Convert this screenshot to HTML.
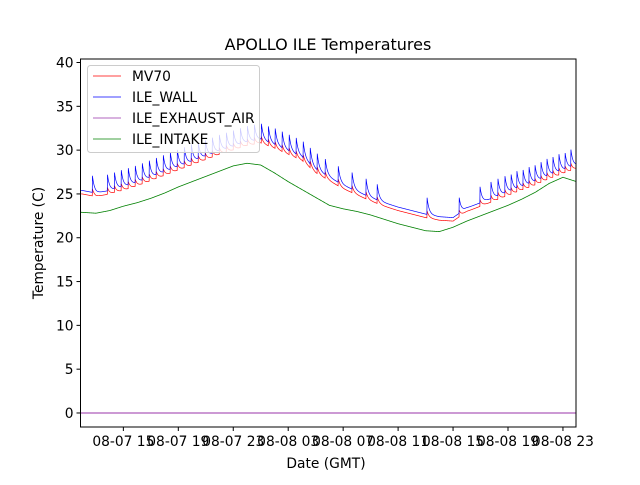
<!DOCTYPE html>
<html><head><meta charset="utf-8"><style>
body{margin:0;background:#fff;}
svg text{font-family:"DejaVu Sans","Liberation Sans",sans-serif;}
</style></head><body>
<svg id="chart" width="640" height="480" xmlns="http://www.w3.org/2000/svg">
<rect x="0" y="0" width="640" height="480" fill="#fff"/>
<text x="328" y="50" font-size="16" text-anchor="middle">APOLLO ILE Temperatures</text>
<g id="series"></g>
<g id="axes"></g>
<rect x="80.5" y="59" width="495.5" height="368" fill="none" stroke="#000" stroke-width="1"/>
<g>
<rect x="87.5" y="65.5" width="172" height="87" rx="3" fill="#fff" fill-opacity="0.8" stroke="#ccc" stroke-width="1"/>
<g><line x1="93" x2="121" y1="76" y2="76" stroke="red" stroke-width="0.8"/><text x="132" y="81" font-size="13.8">MV70</text></g>
<g><line x1="93" x2="121" y1="97" y2="97" stroke="blue" stroke-width="0.8"/><text x="132" y="102" font-size="13.8">ILE_WALL</text></g>
<g><line x1="93" x2="121" y1="118" y2="118" stroke="#9933aa" stroke-width="0.8"/><text x="132" y="123" font-size="13.8">ILE_EXHAUST_AIR</text></g>
<g><line x1="93" x2="121" y1="139" y2="139" stroke="green" stroke-width="0.8"/><text x="132" y="144" font-size="13.8">ILE_INTAKE</text></g>
</g>
<text x="326" y="468" font-size="13.8" text-anchor="middle">Date (GMT)</text>
<text transform="translate(43,243) rotate(-90)" font-size="13.8" text-anchor="middle">Temperature (C)</text>
</svg>
<script>
// hours since 08-07 00:00
const baseHours = [12,13,14,15,16,17,18,19,20,21,22,23,24,25,26,27,28,29,30,31,32,33,34,35,36,37,38,39,40,41,42,43,44,45,46,47,48];
const mv70Base = [25.0,24.7,25.0,25.4,25.9,26.5,27.1,27.7,28.3,28.9,29.5,30.0,30.5,30.8,30.2,29.5,28.8,27.4,26.5,25.6,24.9,24.2,23.6,23.1,22.7,22.3,22.0,21.9,23.0,23.6,24.2,24.8,25.4,26.0,26.7,27.3,27.9];
const wallBase = [25.4,25.1,25.4,25.8,26.3,26.9,27.5,28.1,28.7,29.3,29.9,30.4,30.9,31.2,30.6,29.9,29.2,27.8,26.9,26.0,25.3,24.6,24.0,23.5,23.1,22.7,22.4,22.3,23.4,24.0,24.6,25.2,25.8,26.4,27.1,27.7,28.3];
const intakeBase = [22.9,22.8,23.1,23.6,24.0,24.5,25.1,25.8,26.4,27.0,27.6,28.2,28.5,28.3,27.4,26.4,25.5,24.6,23.7,23.3,23.0,22.6,22.1,21.6,21.2,20.8,20.7,21.2,21.9,22.5,23.1,23.7,24.4,25.2,26.2,26.9,26.4];
const exhaustBase = [0,0,0,0,0,0,0,0,0,0,0,0,0,0,0,0,0,0,0,0,0,0,0,0,0,0,0,0,0,0,0,0,0,0,0,0,0];
const spikeHours = [12.75,13.84,14.35,14.85,15.36,15.87,16.38,16.89,17.40,17.91,18.42,18.93,19.44,19.95,20.45,20.96,21.47,21.98,22.49,23.00,23.51,24.02,24.53,25.04,25.55,26.05,26.56,27.07,27.58,28.09,28.60,29.11,29.69,30.64,31.65,32.67,33.47,37.11,39.44,40.96,41.76,42.27,42.78,43.22,43.65,44.09,44.53,44.96,45.40,45.84,46.27,46.71,47.15,47.58];
const mv70SpikeAmp = [0.8];
const wallSpikeAmp = [1.9];
const xTickHours = [15,19,23,27,31,35,39,43,47];
const xTickLabels = ["08-07 15","08-07 19","08-07 23","08-08 03","08-08 07","08-08 11","08-08 15","08-08 19","08-08 23"];
const yTicks = [0,5,10,15,20,25,30,35,40];

const NS="http://www.w3.org/2000/svg";
const X0=80.5,X1=576,Y0=427,Y1=59;
const xMin=11.88,xMax=47.95,yMin=-1.6,yMax=40.4;
function xs(h){return X0+(h-xMin)/(xMax-xMin)*(X1-X0);}
function ys(v){return Y0-(v-yMin)/(yMax-yMin)*(Y0-Y1);}
function interp(arr,h){
  if(h<=baseHours[0])return arr[0];
  for(let i=1;i<baseHours.length;i++){
    if(h<=baseHours[i]){const t=(h-baseHours[i-1])/(baseHours[i]-baseHours[i-1]);return arr[i-1]+t*(arr[i]-arr[i-1]);}
  }
  return arr[arr.length-1];
}
function seriesValue(base,amp,h){
  let v=interp(base,h);
  if(amp){for(const t of spikeHours){if(t<=h&&h-t<2)v+=amp[0]*Math.exp(-(h-t)/0.15);}}
  return v;
}
const seriesG=document.getElementById('series');
function drawSeries(base,amp,color,name,w){
  let d="";
  for(let h=xMin;h<=xMax;h+=0.015){
    d+=(d?"L":"M")+xs(h).toFixed(2)+","+ys(seriesValue(base,amp,h)).toFixed(2);
  }
  const p=document.createElementNS(NS,'path');
  p.setAttribute('d',d);p.setAttribute('fill','none');p.setAttribute('stroke',color);p.setAttribute('stroke-width',w);
  
  
  seriesG.appendChild(p);
}
drawSeries(mv70Base,mv70SpikeAmp,'red','mv70-line','0.7');
drawSeries(wallBase,wallSpikeAmp,'blue','ile-wall-line','0.7');
drawSeries(exhaustBase,null,'#9933aa','ile-exhaust-air-line','1');
drawSeries(intakeBase,null,'green','ile-intake-line','0.8');

const axesG=document.getElementById('axes');
xTickHours.forEach((h,i)=>{
  const x=xs(h);
  const l=document.createElementNS(NS,'line');
  l.setAttribute('x1',x);l.setAttribute('x2',x);l.setAttribute('y1',Y0);l.setAttribute('y2',Y0+4);l.setAttribute('stroke','#000');
  
  
  axesG.appendChild(l);
  const t=document.createElementNS(NS,'text');
  t.setAttribute('x',x);t.setAttribute('y',Y0+19);t.setAttribute('font-size','13.8');t.setAttribute('text-anchor','middle');
  t.textContent=xTickLabels[i];
  
  
  axesG.appendChild(t);
});
yTicks.forEach(v=>{
  const y=ys(v);
  const l=document.createElementNS(NS,'line');
  l.setAttribute('x1',X0-4);l.setAttribute('x2',X0);l.setAttribute('y1',y);l.setAttribute('y2',y);l.setAttribute('stroke','#000');
  
  
  axesG.appendChild(l);
  const t=document.createElementNS(NS,'text');
  t.setAttribute('x',X0-7);t.setAttribute('y',y+5);t.setAttribute('font-size','13.8');t.setAttribute('text-anchor','end');
  t.textContent=v;
  
  
  axesG.appendChild(t);
});
</script>
</body></html>
